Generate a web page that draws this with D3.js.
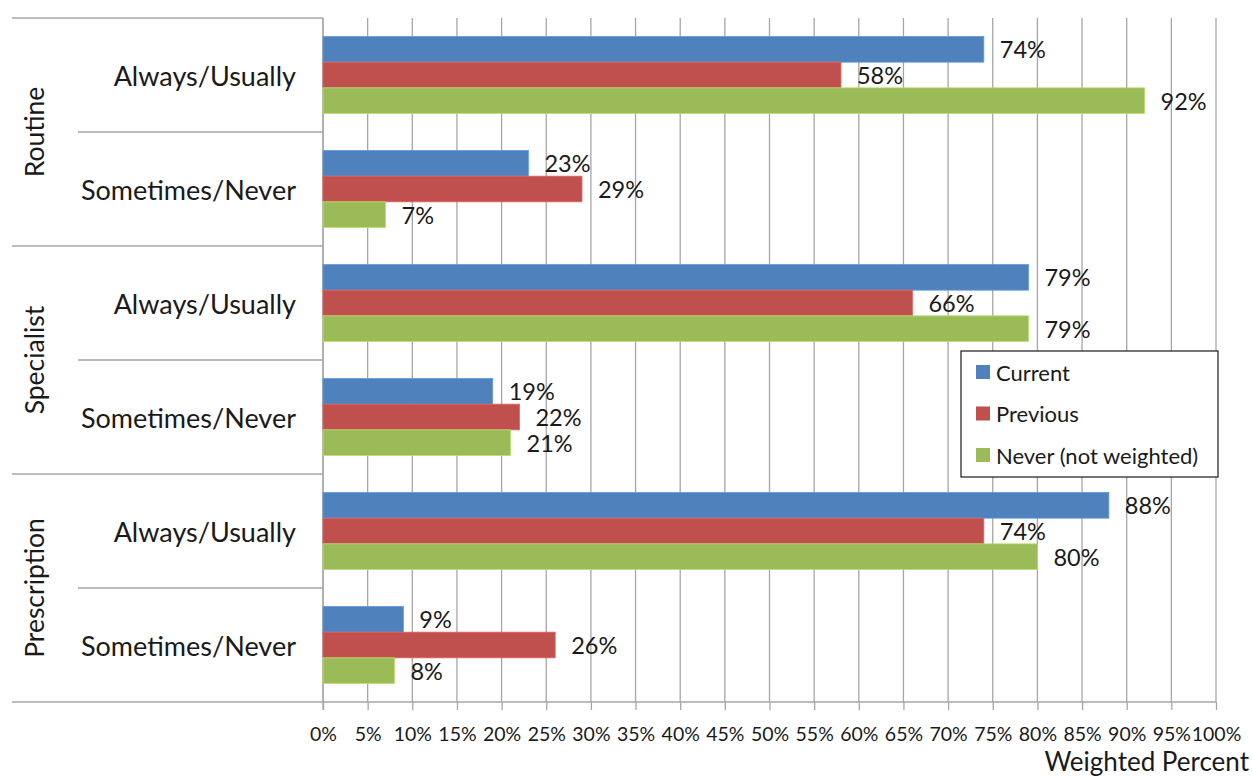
<!DOCTYPE html>
<html>
<head>
<meta charset="utf-8">
<script src="https://cdn.jsdelivr.net/npm/d3@7"></script>
<style>
  html, body { margin: 0; padding: 0; background: #fff; }
  svg text { font-family: Lato, "Open Sans", sans-serif; fill: #1a1a1a; }
</style>
</head>
<body>
<svg id="chart" width="1252" height="777"></svg>
<script>
// Survey groups and the two answers reported inside each group
const groups = ["Routine", "Specialist", "Prescription"];
const answers = ["Always/Usually", "Sometimes/Never"];
const seriesNames = ["Current", "Previous", "Never (not weighted)"];
const seriesColors = ["#4F81BD", "#C0504D", "#9BBB59"];

// Weighted percent per row, one array per series (rows: group × answer)
const current  = [74, 23, 79, 19, 88, 9];
const previous = [58, 29, 66, 22, 74, 26];
const neverNW  = [92, 7, 79, 21, 80, 8];

const tickValues = d3.range(0, 101, 5);
const xTitle = "Weighted Percent";

const seriesValues = [current, previous, neverNW];
const rows = [];
groups.forEach(g => answers.forEach(a => rows.push({ group: g, answer: a, key: g + "|" + a })));

const svg = d3.select("#chart");
const plotLeft = 323, plotRight = 1216, plotTop = 18, plotBottom = 702;

const x = d3.scaleLinear().domain([0, 100]).range([plotLeft, plotRight]);
const y = d3.scaleBand().domain(rows.map(r => r.key)).range([plotTop, plotBottom]).paddingInner(0).paddingOuter(0);
const ySeries = d3.scaleBand().domain(seriesNames).range([0, y.bandwidth()]).paddingInner(0).paddingOuter(0.72);
const yGroup = d3.scaleBand().domain(groups).range([plotTop, plotBottom]);

const gridColor = "#a6a6a6";

// vertical gridlines
svg.append("g")
  .selectAll("line")
  .data(tickValues)
  .join("line")
  .attr("x1", d => x(d)).attr("x2", d => x(d))
  .attr("y1", plotTop).attr("y2", plotBottom)
  .attr("stroke", gridColor).attr("stroke-width", 1.3);

// bottom axis with ticks
const axis = d3.axisBottom(x).tickValues(tickValues).tickFormat(d => d + "%").tickSize(8).tickSizeOuter(0);
const ax = svg.append("g").attr("transform", `translate(0,${plotBottom})`).call(axis);
ax.select(".domain").remove();
ax.selectAll(".tick line").attr("stroke", gridColor).attr("stroke-width", 1.3);
ax.selectAll(".tick text")
  .attr("y", 39).attr("dy", null)
  .style("font-family", "Lato, sans-serif")
  .style("font-size", "19.5px")
  .attr("fill", "#1a1a1a");

// bottom baseline spanning the category area
svg.append("line")
  .attr("x1", 12).attr("x2", plotRight).attr("y1", plotBottom).attr("y2", plotBottom)
  .attr("stroke", gridColor).attr("stroke-width", 1.3);

// category axis line
svg.append("line")
  .attr("x1", plotLeft).attr("x2", plotLeft).attr("y1", plotTop).attr("y2", plotBottom + 8)
  .attr("stroke", gridColor).attr("stroke-width", 1.3);

// group separators (full width of label area)
groups.forEach(g => {
  svg.append("line")
    .attr("x1", 12).attr("x2", plotLeft)
    .attr("y1", yGroup(g)).attr("y2", yGroup(g))
    .attr("stroke", gridColor).attr("stroke-width", 1.3);
});
// answer separators inside each group
groups.forEach(g => {
  const yy = y(g + "|" + answers[1]);
  svg.append("line")
    .attr("x1", 78).attr("x2", plotLeft)
    .attr("y1", yy).attr("y2", yy)
    .attr("stroke", gridColor).attr("stroke-width", 1.3);
});

// group labels (rotated)
svg.append("g").selectAll("text")
  .data(groups)
  .join("text")
  .attr("transform", d => `translate(34,${yGroup(d) + yGroup.bandwidth() / 2}) rotate(-90)`)
  .attr("text-anchor", "middle")
  .attr("dominant-baseline", "central")
  .style("font-size", "26.5px")
  .text(d => d);

// answer labels
svg.append("g").selectAll("text")
  .data(rows)
  .join("text")
  .attr("x", 296)
  .attr("y", d => y(d.key) + y.bandwidth() / 2)
  .attr("text-anchor", "end")
  .attr("dominant-baseline", "central")
  .style("font-size", "27px")
  .text(d => d.answer);

// bars and value labels
seriesNames.forEach((s, si) => {
  const g = svg.append("g");
  const vals = seriesValues[si];
  const data = rows.map((r, i) => ({ key: r.key, v: vals[i] }));
  g.selectAll("rect")
    .data(data)
    .join("rect")
    .attr("x", x(0))
    .attr("y", d => y(d.key) + ySeries(s))
    .attr("width", d => x(d.v) - x(0))
    .attr("height", ySeries.bandwidth())
    .attr("fill", seriesColors[si])
    .attr("stroke", d3.color(seriesColors[si]).brighter(0.5))
    .attr("stroke-width", 0.8);
  g.selectAll("text")
    .data(data)
    .join("text")
    .attr("x", d => x(d.v) + 16)
    .attr("y", d => y(d.key) + ySeries(s) + ySeries.bandwidth() / 2)
    .attr("dominant-baseline", "central")
    .style("font-size", "23.5px")
    .text(d => d.v + "%");
});

// legend
const lg = svg.append("g").attr("transform", "translate(961,351)");
lg.append("rect").attr("width", 257).attr("height", 126)
  .attr("fill", "#fff").attr("stroke", "#1a1a1a").attr("stroke-width", 1.2);
seriesNames.forEach((s, i) => {
  const cy = 21 + i * 41.5;
  lg.append("rect").attr("x", 15).attr("y", cy - 7).attr("width", 14).attr("height", 14)
    .attr("fill", seriesColors[i]);
  lg.append("text").attr("x", 35).attr("y", cy).attr("dominant-baseline", "central")
    .style("font-size", "22px").text(s);
});

// axis title
svg.append("text")
  .attr("x", 1249).attr("y", 771)
  .attr("text-anchor", "end")
  .style("font-size", "26px")
  .text(xTitle);
</script>
</body>
</html>
